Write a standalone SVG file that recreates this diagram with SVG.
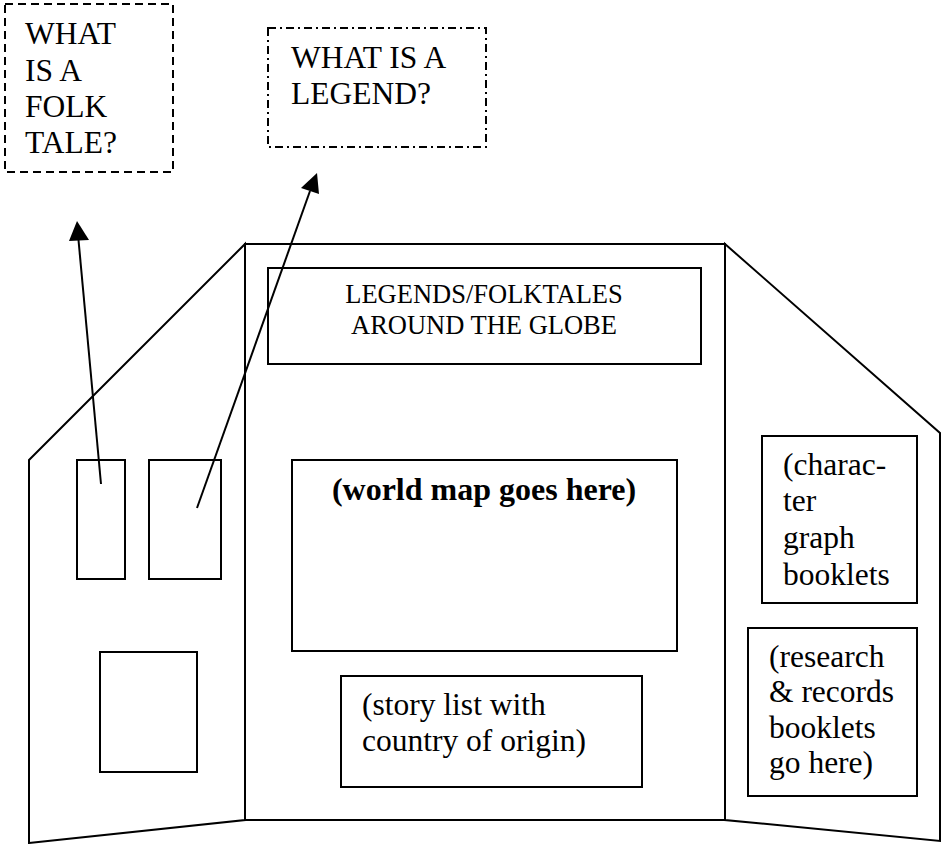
<svg xmlns="http://www.w3.org/2000/svg" width="942" height="844" viewBox="0 0 942 844">
<style>
.ln{fill:none;stroke:#000;stroke-width:2}
.bx{fill:#fff;stroke:#000;stroke-width:2}
.t{font-family:"Liberation Serif","Times New Roman",serif;font-size:31.5px;fill:#000}
.tt{font-family:"Liberation Serif","Times New Roman",serif;font-size:26.5px;fill:#000;text-anchor:middle}
.tb{font-family:"Liberation Serif","Times New Roman",serif;font-size:32px;font-weight:bold;fill:#000;text-anchor:middle}
</style>
<defs>
<marker id="ah" markerWidth="10" markerHeight="10" refX="9" refY="5" orient="auto" markerUnits="userSpaceOnUse" viewBox="0 0 10 10">
<path d="M0,0 L10,5 L0,10 z" fill="#000"/>
</marker>
</defs>
<rect width="942" height="844" fill="#fff"/>
<g id="board">
<polygon class="ln" points="29,460 245,244 245,820 29,843"/>
<polygon class="ln" points="245,244 725,244 725,820 245,820"/>
<polygon class="ln" points="725,244 940,433 940,841 725,820"/>
</g>
<g id="left-box-1"><rect class="bx" x="77" y="460" width="48" height="119"/></g>
<g id="left-box-2"><rect class="bx" x="149" y="460" width="72" height="119"/></g>
<g id="left-box-3"><rect class="bx" x="100" y="652" width="97" height="120"/></g>
<g id="title">
<rect class="bx" x="268" y="268" width="433" height="96"/>
<text class="tt" x="484" y="303">LEGENDS/FOLKTALES</text>
<text class="tt" x="484" y="334">AROUND THE GLOBE</text>
</g>
<g id="map">
<rect class="bx" x="292" y="460" width="385" height="191"/>
<text class="tb" x="484" y="500">(world map goes here)</text>
</g>
<g id="story">
<rect class="bx" x="341" y="676" width="301" height="111"/>
<text class="t" x="362" y="715">(story list with</text>
<text class="t" x="362" y="751">country of origin)</text>
</g>
<g id="character">
<rect class="bx" x="762" y="436" width="155" height="167"/>
<text class="t" x="783" y="475">(charac-</text>
<text class="t" x="783" y="511">ter</text>
<text class="t" x="783" y="548">graph</text>
<text class="t" x="783" y="585">booklets</text>
</g>
<g id="research">
<rect class="bx" x="748" y="628" width="169" height="168"/>
<text class="t" x="769" y="667">(research</text>
<text class="t" x="769" y="702">&amp; records</text>
<text class="t" x="769" y="738">booklets</text>
<text class="t" x="769" y="773">go here)</text>
</g>
<g id="folktale">
<rect x="5" y="4" width="168" height="168" fill="#fff" stroke="#000" stroke-width="2" stroke-dasharray="8,5"/>
<text class="t" x="25" y="44">WHAT</text>
<text class="t" x="25" y="81">IS A</text>
<text class="t" x="25" y="117">FOLK</text>
<text class="t" x="25" y="153">TALE?</text>
</g>
<g id="legend">
<rect x="268" y="28" width="218" height="119" fill="#fff" stroke="#000" stroke-width="2" stroke-dasharray="8,4,2,4"/>
<text class="t" x="291" y="68">WHAT IS A</text>
<text class="t" x="291" y="104">LEGEND?</text>
</g>
<g id="connectors">
<line class="ln" x1="101" y1="484" x2="78.5" y2="240"/>
<path d="M77,221 L69,241 L89,240 z" fill="#000"/>
<line class="ln" x1="197" y1="508" x2="310" y2="191"/>
<path d="M317,173 L301,188 L319,194 z" fill="#000"/>
</g>
</svg>
